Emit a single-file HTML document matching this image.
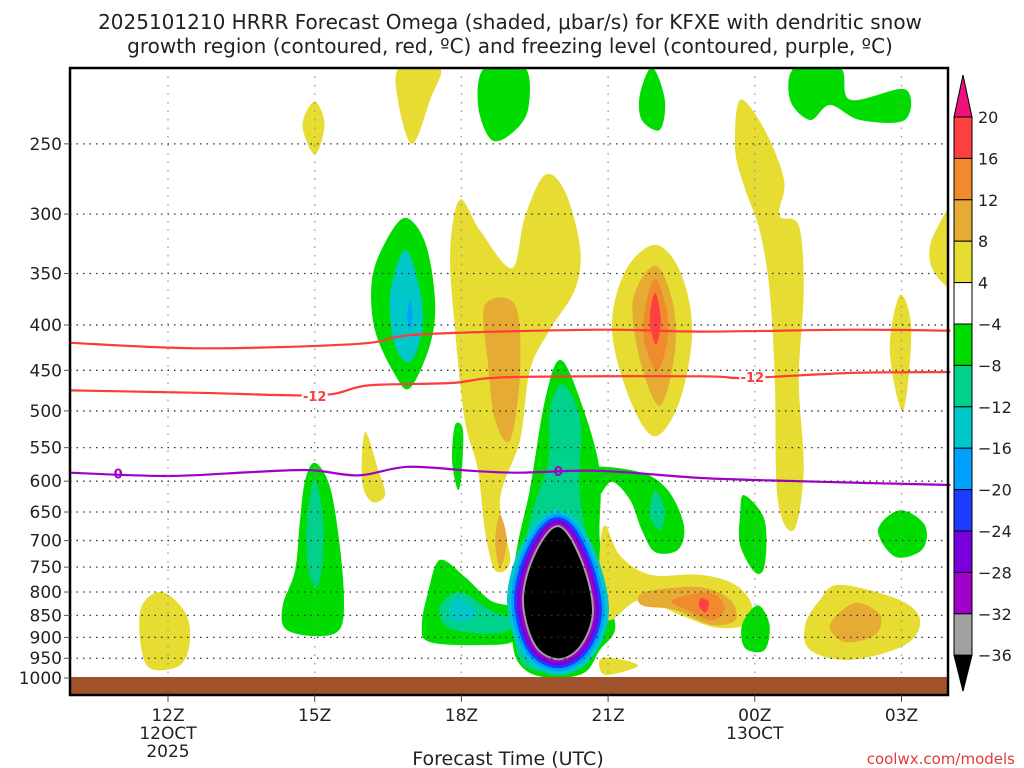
<!DOCTYPE html>
<html><head><meta charset="utf-8"><style>
html,body{margin:0;padding:0;background:#fff;}
svg{display:block;font-family:"DejaVu Sans","Liberation Sans",sans-serif;}
</style></head><body>
<svg id="chart" width="1024" height="768" viewBox="0 0 1024 768" xmlns="http://www.w3.org/2000/svg">
<text x="510" y="29" font-size="20" text-anchor="middle" fill="#222">2025101210 HRRR Forecast Omega (shaded, μbar/s) for KFXE with dendritic snow</text>
<text x="510" y="53" font-size="20" text-anchor="middle" fill="#222">growth region (contoured, red, ºC) and freezing level (contoured, purple, ºC)</text>
<g id="shapes"></g>
<g id="lines"></g>
<g id="grid"></g>
<rect x="70" y="677" width="878" height="18" fill="#a0522d"/>
<rect x="70" y="68" width="878" height="627" fill="none" stroke="#000" stroke-width="2.5"/>
<g id="axes"></g>
<g id="cbar"></g>
<text x="508" y="765" font-size="19" text-anchor="middle" fill="#222">Forecast Time (UTC)</text>
<text x="1015" y="764" font-size="15" text-anchor="end" fill="#e03c3c">coolwx.com/models</text>
</svg>
<script>
// ---- data ----
const pressureTicks=[250,300,350,400,450,500,550,600,650,700,750,800,850,900,950,1000];
const timeTicks=[0,3,6,9,12,15];
const timeTickLabels=["12Z","15Z","18Z","21Z","00Z","03Z"];
const dateLabels={0:["12OCT","2025"],12:["13OCT"]};
const cbarLevels=[20,16,12,8,4,-4,-8,-12,-16,-20,-24,-28,-32,-36];
const cbarColors=["#ff4040","#f08a2c","#e6ab32","#e6dc32","#ffffff","#00dc00","#00d28c","#00c8c8","#00a0ff","#1e3cff","#7800dc","#a000c8","#a0a0a0"];
const upperDGZ_t=[-2,0.65,3.9,5.15,8.8,10.9,14,16];
const upperDGZ_p=[419,425,420,410,405,407,405,406];
const lowerDGZ_t=[-2,0.65,3.1,4.1,5.8,7,10.9,11.8,14,16];
const lowerDGZ_p=[474,477,480,468,465,458,457,459,453,452];
const frz_t=[-2,0,1.7,2.9,3.9,4.9,6.2,7.2,8.8,10.9,12.9,16];
const frz_p=[587,592,586,583,591,578,584,587,584,595,600,606];
// shaded regions: [omega level, [t,p,...]]
const Y=6,O=10,OR=14,R=18,G=-6,T=-10,C=-14,B=-18;
const regions=[
[Y,[-0.12,800,0.35,843,0.45,906,0.25,967,-0.37,975,-0.57,906,-0.53,828]],
[Y,[3,224,3.2,238,3,257,2.75,238]],
[G,[3,572,3.3,606,3.5,699,3.6,817,3.5,883,3,897,2.4,880,2.35,827,2.6,756,2.7,664,2.8,600]],
[T,[3,597,3.17,664,3.15,747,3.03,790,2.86,747,2.84,664]],
[Y,[4.03,528,4.3,583,4.44,622,4.17,633,3.97,600]],
[G,[4.85,303,5.26,323,5.46,375,5.36,421,4.95,471,4.64,455,4.23,405,4.17,356,4.44,323]],
[C,[4.85,329,5.15,365,5.2,405,4.95,440,4.64,421,4.54,370]],
[B,[4.95,375,5,390,4.95,405,4.89,390]],
[Y,[4.74,205,5.56,205,5.36,223,4.99,250,4.7,223]],
[G,[6.48,205,7.3,205,7.36,229,7,244,6.6,247,6.34,226]],
[Y,[5.97,289,6.38,313,7.03,345,7.3,302,7.71,271,8.12,283,8.43,328,8.32,365,7.81,405,7.4,450,7.2,539,6.79,630,7,736,6.69,756,6.48,682,6.34,583,6.07,512,5.87,405,5.77,330]],
[O,[6.48,380,7.1,380,7.2,452,7,539,6.69,512,6.54,440]],
[O,[6.79,655,6.93,701,6.79,750,6.69,701]],
[G,[9.9,205,10.16,223,10.06,241,9.69,235,9.65,220]],
[G,[12.82,205,13.74,205,13.95,223,15.07,217,15.07,235,14.15,235,13.54,226,13.13,235,12.72,223]],
[Y,[9.96,325,10.47,348,10.72,405,10.47,486,9.96,534,9.45,486,9.08,405,9.35,348]],
[O,[9.96,343,10.31,375,10.37,427,10.06,493,9.65,438,9.51,375]],
[OR,[9.96,355,10.2,385,10.2,420,10.0,450,9.75,420,9.75,385]],
[R,[9.96,368,10.08,395,9.98,421,9.85,395]],
[Y,[11.7,223,12.2,241,12.6,275,12.5,301,12.9,309,13.0,365,12.9,461,13.0,583,12.8,681,12.47,630,12.41,461,12.3,365,12.1,313,11.8,281,11.6,254]],
[Y,[14.97,370,15.2,405,15.03,500,14.76,427]],
[Y,[16.2,280,16.2,360,15.7,351,15.6,323,16.2,280]],
[G,[8.02,438,8.43,486,8.83,583,8.83,699,9.04,817,9.14,883,8.83,930,8.53,985,7.91,1000,7.3,979,7.04,906,7.1,736,7.4,613,7.71,486]],
[T,[8.06,467,8.43,512,8.43,630,8.83,817,8.83,906,8.53,967,7.91,985,7.2,956,7.12,817,7.4,664,7.77,572,7.81,500]],
[G,[8.63,580,9.65,586,10.22,614,10.55,673,10.43,717,9.96,721,9.69,681,9.45,630,9.08,601,8.79,622]],
[T,[9.96,614,10.16,647,10.06,681,9.85,655]],
[G,[5.56,736,6.07,769,6.58,817,7.1,838,7.1,906,6.38,918,5.36,911,5.19,875,5.32,800]],
[T,[5.97,800,6.58,838,7.04,861,6.79,890,5.77,880,5.56,832]],
[C,[5.93,810,6.28,838,6.18,861,5.81,861,5.77,832]],
[G,[5.87,519,6.03,525,6.01,583,5.93,614,5.81,568]],
[Y,[8.94,673,9.24,727,9.86,765,10.88,765,11.6,785,11.94,828,11.8,871,11.19,877,10.47,849,9.65,817,9.04,861,8.83,817,8.83,717]],
[O,[9.75,800,10.88,790,11.5,817,11.6,861,11.09,871,10.37,838,9.69,828]],
[OR,[10.31,817,11.09,802,11.39,834,11.13,861,10.67,841]],
[R,[10.9,813,11.06,821,11,843,10.86,830]],
[G,[11.78,622,12.2,664,12.2,747,12,760,11.7,708,11.7,655]],
[G,[12.06,828,12.3,871,12.2,930,11.8,925,11.74,871]],
[Y,[13.74,785,14.97,817,15.38,861,15.07,918,13.95,954,13.13,930,13.03,871,13.33,817]],
[O,[14.05,823,14.56,849,14.46,894,13.84,911,13.54,871]],
[G,[14.97,647,15.48,673,15.42,717,14.87,730,14.52,681]],
[Y,[8.83,954,9.14,950,9.61,969,8.94,992]]
];
// strongest-ascent core (below -36)
const core=[7.98,676,8.43,736,8.67,838,8.43,918,7.98,950,7.51,915,7.28,817,7.51,727];
// ---- axes ----
const X0=70,X1=948,Y0=68,Yg=678;
function xT(t){return 168+t*48.9;}
function yP(p){return Yg-385.3*Math.log(1000/p);}
function colorFor(v){const i=cbarLevels.findIndex((l,k)=>k<cbarLevels.length-1&&v<=l&&v>cbarLevels[k+1]);return cbarColors[i];}
const NS="http://www.w3.org/2000/svg";
function mk(tag,attrs,parent){const e=document.createElementNS(NS,tag);for(const k in attrs)e.setAttribute(k,attrs[k]);parent.appendChild(e);return e;}
function smoothPath(pts,closed){
  const n=pts.length;let d="M"+pts[0][0].toFixed(1)+","+pts[0][1].toFixed(1);
  const get=i=>closed?pts[(i+n)%n]:pts[Math.max(0,Math.min(n-1,i))];
  const m=closed?n:n-1;
  for(let i=0;i<m;i++){const p0=get(i-1),p1=get(i),p2=get(i+1),p3=get(i+2);
    const c1=[p1[0]+(p2[0]-p0[0])/6,p1[1]+(p2[1]-p0[1])/6],c2=[p2[0]-(p3[0]-p1[0])/6,p2[1]-(p3[1]-p1[1])/6];
    d+="C"+c1.map(v=>v.toFixed(1)).join(",")+" "+c2.map(v=>v.toFixed(1)).join(",")+" "+p2[0].toFixed(1)+","+p2[1].toFixed(1);}
  return d+(closed?"Z":"");
}
function toPts(arr){const o=[];for(let i=0;i<arr.length;i+=2)o.push([xT(arr[i]),yP(arr[i+1])]);return o;}
const shapes=document.getElementById('shapes');
const clip=mk('clipPath',{id:'pc'},mk('defs',{},document.getElementById('chart')));
mk('rect',{x:X0,y:Y0,width:X1-X0,height:Yg-Y0+2},clip);
shapes.setAttribute('clip-path','url(#pc)');
regions.forEach((r,i)=>{
  const el=mk('path',{d:smoothPath(toPts(r[1]),true),fill:colorFor(r[0])},shapes);
  
  
});
const corePath=smoothPath(toPts(core),true);
[[34,"#00c8c8"],[26,"#00a0ff"],[20,"#1e3cff"],[14,"#7800dc"],[9,"#a000c8"],[4,"#a0a0a0"]].forEach(s=>{
  const el=mk('path',{d:corePath,fill:"none",stroke:s[1],"stroke-width":s[0],"stroke-linejoin":"round"},shapes);
  
  
});
const coreEl=mk('path',{d:corePath,fill:"#000"},shapes);


// contour lines
const lines=document.getElementById('lines');
function line(ts,ps,col,name){const pts=ts.map((t,i)=>[xT(t),yP(ps[i])]);
  const el=mk('path',{d:smoothPath(pts,false),fill:"none",stroke:col,"stroke-width":2.2},lines);
  
  }
line(upperDGZ_t,upperDGZ_p,"#ff3c3c","dgz-upper-contour");
line(lowerDGZ_t,lowerDGZ_p,"#ff3c3c","dgz-lower-contour");
line(frz_t,frz_p,"#a000c8","freezing-level-contour");
function lab(t,p,txt,col,name){
  mk('rect',{x:xT(t)-13,y:yP(p)-8,width:26,height:16,fill:"#fff"},lines);
  const el=mk('text',{x:xT(t),y:yP(p)+5,"font-size":13,"font-weight":"bold","text-anchor":"middle",fill:col},lines);
  el.textContent=txt;
  
  }
lab(3,481,"-12","#ff3c3c","dgz-label");
lab(11.95,458,"-12","#ff3c3c","dgz-label");
{const el=mk('text',{x:xT(-1.02),y:yP(588)+5,"font-size":13,"font-weight":"bold","text-anchor":"middle",fill:"#a000c8"},lines);el.textContent="0";

}
{const el=mk('text',{x:xT(7.98),y:yP(584)+5,"font-size":13,"font-weight":"bold","text-anchor":"middle",fill:"#a000c8"},lines);el.textContent="0";

}
// grid & axes
const grid=document.getElementById('grid'),axes=document.getElementById('axes');
pressureTicks.forEach(p=>{
  const y=yP(p);
  const g=mk('line',{x1:X0,x2:X1,y1:y,y2:y,stroke:"#333","stroke-width":1.3,"stroke-dasharray":"1.5,5"},grid);
  
  
  mk('line',{x1:X0-6,x2:X0,y1:y,y2:y,stroke:"#555","stroke-width":1},axes);
  const t=mk('text',{x:X0-8,y:y+6,"font-size":17,"text-anchor":"end",fill:"#222"},axes);
  t.textContent=p;
  
  
});
timeTicks.forEach((h,i)=>{
  const x=xT(h);
  const g=mk('line',{x1:x,x2:x,y1:Y0,y2:Yg,stroke:"#999","stroke-width":1.3,"stroke-dasharray":"1.5,7"},grid);
  
  
  mk('line',{x1:x,x2:x,y1:695,y2:702,stroke:"#444","stroke-width":1},axes);
  const t=mk('text',{x:x,y:721,"font-size":17,"text-anchor":"middle",fill:"#222"},axes);
  t.textContent=timeTickLabels[i];
  
  
  (dateLabels[h]||[]).forEach((s,k)=>{
    const d=mk('text',{x:x,y:739+k*18,"font-size":17,"text-anchor":"middle",fill:"#222"},axes);
    d.textContent=s;
    
    
  });
});
// colorbar
const cb=document.getElementById('cbar');const cx=954,cw=18,ct=117,step=41.4;
mk('polygon',{points:`${cx},${ct} ${cx+cw/2},75 ${cx+cw},${ct}`,fill:"#f0107c",stroke:"#000","stroke-width":1},cb);
cbarColors.forEach((c,i)=>{
  const r=mk('rect',{x:cx,y:ct+i*step,width:cw,height:step,fill:c,stroke:"#000","stroke-width":1},cb);
  
  
});
const cbBot=ct+cbarColors.length*step;
mk('polygon',{points:`${cx},${cbBot} ${cx+cw/2},${cbBot+36} ${cx+cw},${cbBot}`,fill:"#000",stroke:"#000","stroke-width":1},cb);
cbarLevels.forEach((l,i)=>{
  const t=mk('text',{x:978,y:ct+i*step+6,"font-size":16,fill:"#222"},cb);
  t.textContent=l<0?"\u2212"+(-l):String(l);
  
  
});
</script>
</body></html>
